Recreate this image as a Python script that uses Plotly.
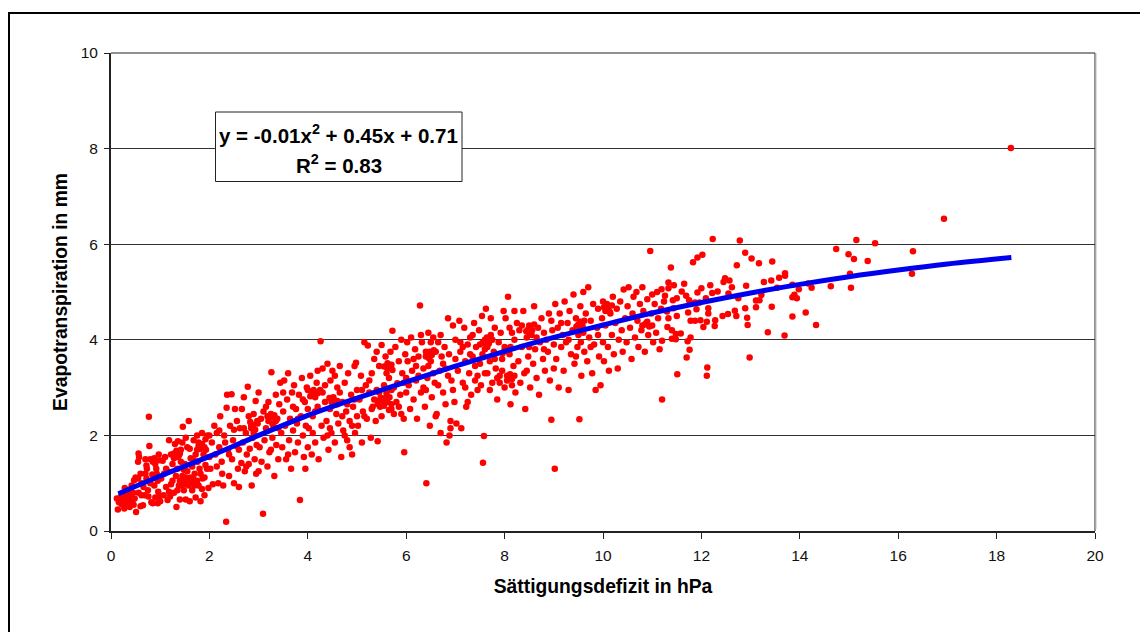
import plotly.graph_objects as go

# Sättigungsdefizit (hPa), Evapotranspiration (mm) pairs
band_0_1 = [(0.14,0.45),(0.12,0.68),(0.16,0.6),(0.2,0.72),(0.22,0.56),(0.25,0.64),(0.27,0.47),(0.28,0.9),(0.3,0.58),(0.33,0.68),
(0.36,0.62),(0.38,0.5),(0.4,0.72),(0.42,0.95),(0.44,0.66),(0.47,1.06),(0.48,0.68),(0.51,0.40),(0.5,1.12),(0.55,1.1),
(0.56,0.8),(0.6,0.52),(0.62,1.0),(0.55,1.45),(0.57,1.55),(0.56,1.62),(0.65,0.54),(0.62,0.75),(0.68,0.75),(0.7,1.2),
(0.72,1.37),(0.73,1.3),(0.75,0.85),(0.77,2.39),(0.78,1.78),(0.8,1.0),(0.82,0.6),(0.85,0.58),(0.72,1.1),(0.8,1.5),
(0.85,1.45),(0.88,1.52),(0.9,0.7),(0.92,1.3),(0.95,0.58),(0.95,1.05),(0.97,1.6),(0.98,0.72),(0.66,0.92),(0.7,1.5),
(0.76,0.72),(0.84,1.18),(0.88,0.95),(0.9,1.4),(0.93,1.2),(0.96,0.82),(0.99,1.48),(0.6,1.2),(0.45,0.8),(0.35,0.78)]

band_1_2 = [(1.0,0.62),(1.02,1.1),(1.05,1.47),(1.07,0.75),(1.1,1.55),(1.12,0.92),(1.15,0.65),(1.15,1.25),(1.18,1.9),(1.2,0.72),
(1.22,1.6),(1.25,1.05),(1.28,0.8),(1.3,1.82),(1.33,0.50),(1.35,1.3),(1.36,1.88),(1.38,0.95),(1.4,0.66),(1.42,1.7),
(1.45,1.15),(1.46,2.18),(1.48,0.85),(1.5,1.4),(1.52,0.66),(1.55,1.75),(1.56,1.0),(1.58,2.3),(1.6,0.62),(1.62,1.52),
(1.65,0.85),(1.68,1.9),(1.7,1.2),(1.72,0.7),(1.75,2.0),(1.76,1.45),(1.78,0.95),(1.8,1.72),(1.82,0.62),(1.85,2.05),
(1.86,1.1),(1.88,1.6),(1.9,0.75),(1.92,1.92),(1.95,1.3),(1.96,2.0),(1.98,0.9),(2.0,1.55),(2.0,2.0),(1.25,1.4),
(1.35,0.85),(1.45,1.85),(1.55,1.25),(1.65,1.35),(1.75,1.05),(1.85,0.88),(1.93,1.7),(1.12,1.3),(1.28,1.62),(1.4,1.05),
(1.5,1.08),(1.6,1.72),(1.7,0.95),(1.8,1.3),(1.9,1.12),(1.22,0.98),(1.32,1.15),(1.42,1.45),(1.52,1.95),(1.62,1.02),
(1.72,1.6),(1.82,1.2),(1.92,1.38),(1.08,1.2),(1.18,0.82),(1.38,1.58),(1.48,1.28),(1.58,0.95),(1.68,1.48),(1.78,1.85)]

band_2_3 = [(2.02,1.3),(2.05,1.85),(2.07,0.98),(2.1,2.2),(2.12,1.6),(2.15,2.05),(2.18,1.0),(2.2,1.75),(2.22,2.4),(2.25,1.45),
(2.28,0.95),(2.3,2.0),(2.32,1.85),(2.34,0.195),(2.35,2.58),(2.36,2.85),(2.38,1.7),(2.4,1.15),(2.42,2.2),(2.45,2.86),
(2.46,1.5),(2.48,1.9),(2.5,1.0),(2.52,2.55),(2.55,1.78),(2.56,2.3),(2.58,1.3),(2.6,0.92),(2.62,2.15),(2.65,1.42),
(2.66,2.55),(2.68,1.85),(2.7,2.8),(2.72,1.25),(2.74,2.05),(2.76,1.6),(2.78,3.02),(2.8,1.4),(2.8,2.4),(2.82,1.72),
(2.85,2.2),(2.86,0.95),(2.88,1.95),(2.9,2.45),(2.92,1.5),(2.94,2.72),(2.96,1.8),(2.98,2.25),(3.0,1.25),(3.0,2.9),
(2.2,2.1),(2.26,1.2),(2.4,1.6),(2.5,2.12),(2.6,1.7),(2.7,2.15),(2.75,1.35),(2.9,2.05),(2.95,1.2),(2.15,1.35)]

band_3_4 = [(3.02,1.75),(3.05,2.35),(3.06,1.45),(3.09,0.36),(3.1,2.5),(3.12,1.9),(3.15,2.15),(3.18,1.35),(3.2,2.7),(3.22,1.65),
(3.25,2.45),(3.26,3.32),(3.28,1.95),(3.3,2.2),(3.32,1.15),(3.35,2.85),(3.36,1.8),(3.38,2.35),(3.4,1.5),(3.42,2.65),
(3.44,3.1),(3.46,2.05),(3.48,1.75),(3.5,2.5),(3.52,3.15),(3.54,2.2),(3.56,1.5),(3.58,2.75),(3.6,3.3),(3.62,1.9),
(3.64,2.35),(3.66,1.3),(3.68,2.9),(3.7,2.1),(3.72,3.05),(3.74,1.65),(3.76,2.55),(3.78,2.25),(3.8,1.85),(3.82,2.85),
(3.84,0.65),(3.86,2.4),(3.88,3.2),(3.9,2.0),(3.92,1.55),(3.94,2.7),(3.96,2.2),(3.98,3.0),(4.0,1.75),(4.0,2.55),
(3.15,2.6),(3.25,1.7),(3.4,2.15),(3.5,2.9),(3.6,1.6),(3.7,2.6),(3.8,2.35),(3.9,2.75),(3.95,1.3),(4.0,2.95)]

band_4_5 = [(4.02,2.15),(4.05,3.25),(4.08,1.6),(4.1,2.4),(4.12,2.85),(4.15,1.85),(4.18,3.1),(4.2,2.6),(4.22,1.5),(4.25,2.95),
(4.26,3.97),(4.28,2.2),(4.3,3.4),(4.32,1.95),(4.35,2.7),(4.38,2.3),(4.4,3.5),(4.42,1.7),(4.45,2.55),(4.46,3.15),
(4.48,2.05),(4.5,3.35),(4.52,2.8),(4.55,1.85),(4.58,2.45),(4.6,3.0),(4.62,2.25),(4.65,3.45),(4.68,1.55),(4.7,2.7),
(4.72,2.1),(4.75,3.1),(4.78,2.5),(4.8,1.9),(4.82,3.3),(4.85,2.3),(4.88,2.85),(4.9,1.6),(4.92,2.6),(4.95,3.45),
(4.96,2.05),(4.98,3.52),(5.0,2.4),(5.0,2.95),(4.1,2.05),(4.3,2.9),(4.45,2.15),(4.6,2.65),(4.75,2.0),(4.9,2.2),
(4.15,2.5),(4.35,3.05),(4.55,3.25),(4.7,2.4),(4.85,1.75),(4.95,2.75),(4.2,3.35),(4.4,2.0),(4.65,2.9),(4.8,2.65)]

band_5_6 = [(5.02,2.2),(5.05,2.75),(5.08,3.25),(5.1,1.85),(5.12,2.5),(5.15,3.95),(5.18,3.05),(5.2,2.35),(5.22,3.88),(5.25,2.9),
(5.28,1.95),(5.3,3.3),(5.32,2.6),(5.35,3.6),(5.38,2.3),(5.4,2.95),(5.42,1.88),(5.45,3.45),(5.47,2.6),(5.5,3.89),
(5.52,2.77),(5.55,3.44),(5.58,3.65),(5.6,2.88),(5.62,3.51),(5.65,2.53),(5.68,3.75),(5.7,2.95),(5.72,4.19),(5.72,3.37),
(5.75,2.45),(5.78,3.85),(5.8,2.7),(5.82,3.09),(5.85,3.55),(5.88,2.85),(5.9,4.0),(5.92,3.3),(5.95,2.35),(5.96,1.65),
(5.98,3.7),(6.0,2.9),(6.0,3.2),(6.02,3.95),(5.15,2.4),(5.25,3.15),(5.35,2.75),(5.45,2.9),(5.55,3.05),(5.65,3.2),
(5.75,3.0),(5.85,2.6),(5.95,3.1),(5.1,2.95),(5.3,2.55),(5.5,2.4),(5.7,2.65),(5.9,2.45),(5.4,3.75),(5.6,3.3)]

band_6_7 = [(6.03,3.55),(6.05,3.05),(6.08,2.55),(6.1,4.05),(6.12,3.35),(6.15,2.75),(6.18,3.8),(6.2,3.15),(6.22,2.35),(6.25,3.65),
(6.28,4.72),(6.3,2.9),(6.32,3.95),(6.35,3.4),(6.38,2.6),(6.4,3.75),(6.41,1.0),(6.43,3.2),(6.45,4.15),(6.48,2.2),
(6.5,3.55),(6.52,2.8),(6.55,4.05),(6.58,3.1),(6.6,3.75),(6.62,2.45),(6.65,3.95),(6.68,3.35),(6.7,2.05),(6.72,3.65),
(6.75,2.9),(6.78,3.85),(6.8,3.4),(6.82,1.85),(6.85,4.45),(6.87,3.7),(6.9,2.3),(6.92,3.15),(6.95,4.3),(6.98,2.7),
(7.0,3.6),(7.0,4.0),(6.15,3.6),(6.25,3.25),(6.35,3.0),(6.45,3.45),(6.55,3.3),(6.65,3.05),(6.75,3.5),(6.85,3.25),
(6.95,2.95),(6.2,3.45),(6.4,2.95),(6.6,2.4),(6.8,2.65),(6.9,2.15),(6.3,4.1),(6.5,3.95),(6.7,4.1),(6.88,2.0)]

band_7_8 = [(7.02,2.25),(7.05,3.35),(7.08,4.4),(7.1,3.75),(7.12,2.15),(7.15,3.1),(7.18,4.25),(7.2,3.55),(7.22,2.6),(7.25,3.9),
(7.28,3.3),(7.3,4.05),(7.32,2.85),(7.35,3.65),(7.38,4.35),(7.4,3.15),(7.42,3.85),(7.45,2.95),(7.48,4.2),(7.5,3.5),
(7.52,3.05),(7.54,4.5),(7.56,1.43),(7.58,1.99),(7.6,3.8),(7.62,4.65),(7.65,3.3),(7.68,4.0),(7.7,3.55),(7.72,4.45),
(7.75,3.1),(7.78,3.75),(7.8,4.25),(7.82,3.4),(7.85,2.75),(7.88,3.95),(7.9,3.25),(7.92,4.15),(7.95,3.6),(7.98,4.6),
(8.0,3.0),(8.0,3.85),(7.1,3.95),(7.2,3.0),(7.3,3.7),(7.4,3.45),(7.5,3.9),(7.6,3.3),(7.7,2.95),(7.8,3.6),
(7.9,3.1),(7.15,3.85),(7.35,4.1),(7.55,3.7),(7.75,4.0),(7.95,3.35),(7.25,2.7),(7.45,3.25),(7.65,3.85),(7.85,3.2)]

band_8_9 = [(8.02,4.45),(8.05,3.25),(8.07,4.9),(8.1,3.7),(8.12,2.65),(8.15,4.15),(8.18,3.45),(8.2,4.0),(8.22,2.9),(8.25,4.35),
(8.28,3.55),(8.3,4.2),(8.32,3.1),(8.35,3.85),(8.38,4.6),(8.4,3.3),(8.42,2.55),(8.45,4.05),(8.48,3.65),(8.5,4.3),
(8.52,3.0),(8.55,4.1),(8.58,3.5),(8.6,4.7),(8.62,3.8),(8.65,3.2),(8.68,4.25),(8.7,2.85),(8.72,3.95),(8.75,4.45),
(8.78,3.6),(8.8,4.15),(8.82,3.35),(8.85,4.0),(8.88,3.75),(8.9,4.55),(8.92,3.15),(8.95,2.33),(8.97,4.2),(9.0,3.9),
(9.0,3.4),(8.1,4.25),(8.2,4.6),(8.35,4.3),(8.5,3.85),(8.65,4.05),(8.8,3.8),(8.95,4.4),(8.15,3.05),(8.45,3.35)]

band_9_10 = [(9.02,1.30),(9.03,4.75),(9.05,3.6),(9.08,4.25),(9.1,3.0),(9.12,4.55),(9.15,3.85),(9.18,4.1),(9.2,3.35),(9.22,4.8),
(9.25,3.95),(9.28,4.35),(9.3,2.95),(9.32,4.6),(9.35,3.7),(9.38,4.2),(9.4,4.95),(9.42,3.5),(9.45,4.45),(9.48,3.85),
(9.5,4.1),(9.52,2.34),(9.54,4.7),(9.56,3.25),(9.58,4.3),(9.6,5.0),(9.62,3.75),(9.65,4.55),(9.68,3.55),(9.7,5.1),
(9.72,4.05),(9.75,4.4),(9.78,3.3),(9.8,4.75),(9.82,3.9),(9.85,2.95),(9.88,4.25),(9.9,4.65),(9.92,3.65),(9.95,3.05),
(9.98,4.45),(10.0,3.95),(10.0,4.8),(9.3,4.0),(9.45,3.65),(9.6,4.15),(9.75,3.85),(9.9,4.1),(9.15,4.35),(9.55,3.95)]

band_10_11 = [(10.02,3.55),(10.05,4.3),(10.08,4.75),(10.1,3.85),(10.12,3.35),(10.15,4.55),(10.18,4.1),(10.2,4.9),(10.22,3.7),(10.25,4.35),
(10.28,4.65),(10.3,3.4),(10.32,4.0),(10.35,4.8),(10.38,4.2),(10.4,3.75),(10.42,5.05),(10.45,4.45),(10.48,3.95),(10.5,4.7),
(10.52,5.1),(10.55,4.25),(10.58,3.6),(10.6,4.55),(10.62,4.9),(10.65,4.05),(10.68,5.0),(10.7,4.4),(10.72,3.85),(10.75,4.75),
(10.78,4.2),(10.8,5.1),(10.82,4.6),(10.85,3.75),(10.88,4.35),(10.9,4.85),(10.92,4.1),(10.96,5.86),(10.98,4.55),(11.0,4.95),
(11.0,4.3),(11.02,3.95),(11.05,4.75),(11.08,4.15),(11.1,5.0),(11.12,4.45),(11.15,3.8),(11.18,4.65),(11.19,5.06),(11.2,2.75)]

band_11_13 = [(11.2,3.98),(11.24,4.8),(11.26,4.92),(11.3,4.59),(11.31,4.27),(11.33,5.2),(11.33,5.08),(11.33,4.45),(11.38,5.51),(11.4,4.2),
(11.4,4.02),(11.42,4.83),(11.43,4.66),(11.44,5.14),(11.48,4.12),(11.48,4.01),(11.5,4.87),(11.5,4.5),(11.51,3.28),(11.58,4.13),
(11.6,5.01),(11.65,5.17),(11.69,4.92),(11.7,3.63),(11.72,3.97),(11.73,4.57),(11.75,4.83),(11.76,3.79),(11.78,4.05),(11.78,4.4),
(11.83,5.62),(11.87,4.78),(11.87,4.4),(11.9,4.64),(11.92,5.72),(11.92,4.99),(11.96,4.78),(11.98,4.41),(12.0,5.08),(12.02,5.78),
(12.04,4.27),(12.09,4.87),(12.11,4.38),(12.11,3.25),(12.12,3.42),(12.14,4.55),(12.14,4.66),(12.18,5.14),(12.22,4.98),(12.23,6.11),
(12.27,4.29),(12.28,4.41),(12.33,5.01),(12.43,4.5),(12.45,5.21),(12.48,5.29),(12.54,4.54),(12.55,4.97),(12.57,5.24),(12.62,5.10),
(12.68,4.61),(12.71,4.5),(12.72,5.56),(12.75,4.87),(12.78,6.08),(12.89,5.82),(12.89,4.66),(12.91,5.13),(12.93,4.46),(12.94,4.31),
(12.98,3.63)]

band_13_19 = [(13.02,5.70),(13.11,4.82),(13.11,4.68),(13.17,5.60),(13.18,4.83),(13.22,4.94),(13.27,5.21),(13.35,4.16),(13.42,5.24),(13.43,4.69),
(13.44,5.64),(13.54,5.09),(13.58,5.3),(13.69,4.09),(13.7,5.39),(13.7,5.34),(13.85,5.15),(13.85,4.89),(13.85,4.49),(13.89,4.94),
(13.94,4.87),(13.98,5.06),(14.12,4.57),(14.17,5.18),(14.24,5.09),(14.33,4.31),(14.63,5.12),(14.74,5.90),(14.99,5.79),(15.02,5.38),
(15.04,5.09),(15.1,5.69),(15.15,6.09),(15.38,5.65),(15.53,6.02),(16.28,5.38),(16.3,5.85),(16.93,6.53),(18.29,8.01)]

# Denser clumps that the picture shows along the band
clumps_low = [(0.2,0.62),(0.24,0.7),(0.3,0.75),(0.34,0.55),(0.4,0.6),(0.46,0.55),(1.48,1.05),(1.52,1.12),(1.56,1.08),(1.6,1.0),
(1.62,1.12),(1.5,0.98),(1.44,0.95),(1.68,1.08),(1.3,1.6),(1.33,1.68),(1.36,1.55),(1.28,1.52),(1.4,1.62),(1.78,1.78),
(1.82,1.72),(1.85,1.82),(1.75,1.7),(1.9,1.75),(2.85,2.15),(2.89,2.22),(2.93,2.12),(2.83,2.28),(2.97,2.3),(3.2,2.3),
(3.25,2.38),(3.28,2.25),(3.18,2.4),(3.32,2.42),(3.35,2.3),(4.08,2.9),(4.12,2.95),(4.15,2.8),(4.05,2.82),(4.2,2.88),
(4.48,2.7),(4.52,2.75),(4.56,2.65),(4.44,2.78),(4.6,2.72),(5.44,2.72),(5.48,2.78),(5.5,2.68),(5.42,2.65),(5.55,2.75)]

clumps_mid = [(5.62,2.7),(5.58,2.78),(5.66,2.8),(5.55,2.62),(5.7,2.55),(5.66,3.42),(5.7,3.48),(5.62,3.4),(6.44,3.7),(6.48,3.75),
(6.52,3.68),(6.4,3.65),(6.56,3.78),(6.46,3.62),(7.6,4.0),(7.64,4.05),(7.68,3.92),(7.56,3.95),(7.72,4.1),(7.62,3.9),
(8.08,3.22),(8.11,3.28),(8.15,3.18),(8.05,3.15),(8.2,3.25),(8.0,3.78),(8.04,3.82),(8.08,3.75),(7.96,3.72),(8.12,3.85),
(8.48,4.22),(8.52,4.28),(8.56,4.2),(8.44,4.18),(8.6,4.32),(8.5,4.15),(9.5,4.32),(9.54,4.38),(9.58,4.28),(9.46,4.28),
(9.62,4.4),(10.05,4.6),(10.1,4.65),(10.14,4.58),(10.02,4.68),(10.18,4.72),(10.85,4.32),(10.9,4.38),(10.94,4.28),(10.8,4.3)]

# Trend curve
curve_x = [0.15, 1, 2, 3, 4, 5, 6, 7, 8, 9, 10, 11, 12, 13, 14, 15, 16, 17, 18.3]
curve_y = [0.78, 1.15, 1.56, 2.0, 2.42, 2.78, 3.12, 3.45, 3.76, 4.05, 4.31, 4.56, 4.78, 4.98, 5.16, 5.32, 5.46, 5.585, 5.72]

# Texts
x_title = "Sättigungsdefizit in hPa"
y_title = "Evapotranspiration in mm"
equation = "y = -0.01x<sup>2</sup> + 0.45x + 0.71"
r_squared = "R<sup>2</sup> = 0.83"

all_bands = [band_0_1, band_1_2, band_2_3, band_3_4, band_4_5, band_5_6, band_6_7,
             band_7_8, band_8_9, band_9_10, band_10_11, band_11_13, band_13_19, clumps_low, clumps_mid]
point_x = [p[0] for band in all_bands for p in band]
point_y = [p[1] for band in all_bands for p in band]

FONT = "Liberation Sans, Arial, sans-serif"
W, H = 1140, 632
L, R, T, B = 111, 1095, 53, 531

fig = go.Figure()
fig.add_trace(go.Scatter(x=point_x, y=point_y, mode="markers",
                         marker=dict(color="#ff0000", size=6.5, line=dict(width=0)),
                         showlegend=False, hoverinfo="skip"))
fig.add_trace(go.Scatter(x=curve_x, y=curve_y, mode="lines",
                         line=dict(color="#0000ee", width=5, shape="spline"),
                         showlegend=False, hoverinfo="skip"))


def xpaper(px):
    return (px - L) / (R - L)


def ypaper(py):
    return (B - py) / (B - T)


fig.update_layout(
    width=W, height=H, autosize=False,
    margin=dict(l=L, r=W - R, t=T, b=H - B, pad=0),
    paper_bgcolor="white", plot_bgcolor="white",
    font=dict(family=FONT, color="black", size=15),
    xaxis=dict(range=[0, 20], tickmode="array", tickvals=list(range(0, 21, 2)),
               showgrid=False, zeroline=False, showline=True, linecolor="#222222", linewidth=2,
               ticks="outside", ticklen=6, tickwidth=1, tickcolor="#222222",
               ticklabelstandoff=3,
               tickfont=dict(size=15.5, family=FONT, color="#111111"),
               title=dict(text=f"<b>{x_title}</b>", font=dict(size=19.3, family=FONT), standoff=17)),
    yaxis=dict(range=[0, 10], tickmode="array", tickvals=list(range(0, 11, 2)),
               showgrid=True, gridcolor="#333333", gridwidth=1, zeroline=False,
               showline=True, linecolor="#222222", linewidth=2,
               ticks="outside", ticklen=5, tickwidth=1, tickcolor="#222222",
               ticklabelstandoff=3,
               tickfont=dict(size=15.5, family=FONT, color="#111111"),
               title=dict(text=f"<b>{y_title}</b>", font=dict(size=19.3, family=FONT), standoff=8)),
    shapes=[
        dict(type="line", xref="paper", yref="paper",
             x0=xpaper(L), x1=xpaper(R), y0=ypaper(T), y1=ypaper(T),
             line=dict(color="#222222", width=1), layer="below"),
        dict(type="line", xref="paper", yref="paper",
             x0=xpaper(R), x1=xpaper(R), y0=ypaper(B), y1=ypaper(T),
             line=dict(color="#222222", width=1), layer="below"),
        dict(type="line", xref="paper", yref="paper",
             x0=xpaper(R + 1), x1=xpaper(R + 1), y0=ypaper(B - 2), y1=ypaper(T),
             line=dict(color="#bbbbbb", width=1), layer="below"),
        dict(type="line", xref="paper", yref="paper",
             x0=xpaper(8), x1=xpaper(1140), y0=ypaper(13), y1=ypaper(13),
             line=dict(color="black", width=2), layer="below"),
        dict(type="line", xref="paper", yref="paper",
             x0=xpaper(9), x1=xpaper(9), y0=ypaper(632), y1=ypaper(12),
             line=dict(color="black", width=2), layer="below"),
        dict(type="rect", xref="paper", yref="paper",
             x0=xpaper(215.5), x1=xpaper(462), y0=ypaper(181.5), y1=ypaper(112),
             fillcolor="white", line=dict(color="#222222", width=1), layer="above"),
    ],
    annotations=[
        dict(xref="paper", yref="paper", x=xpaper(338.5), y=ypaper(134),
             xanchor="center", yanchor="middle", showarrow=False,
             text=f"<b>{equation}</b>",
             font=dict(size=20.5, family=FONT, color="black")),
        dict(xref="paper", yref="paper", x=xpaper(339), y=ypaper(164),
             xanchor="center", yanchor="middle", showarrow=False,
             text=f"<b>{r_squared}</b>",
             font=dict(size=20.5, family=FONT, color="black")),
    ],
)

fig.write_html("out.html", config={"displayModeBar": False},
               post_script="document.body.style.margin='0';document.body.style.overflow='hidden';")
